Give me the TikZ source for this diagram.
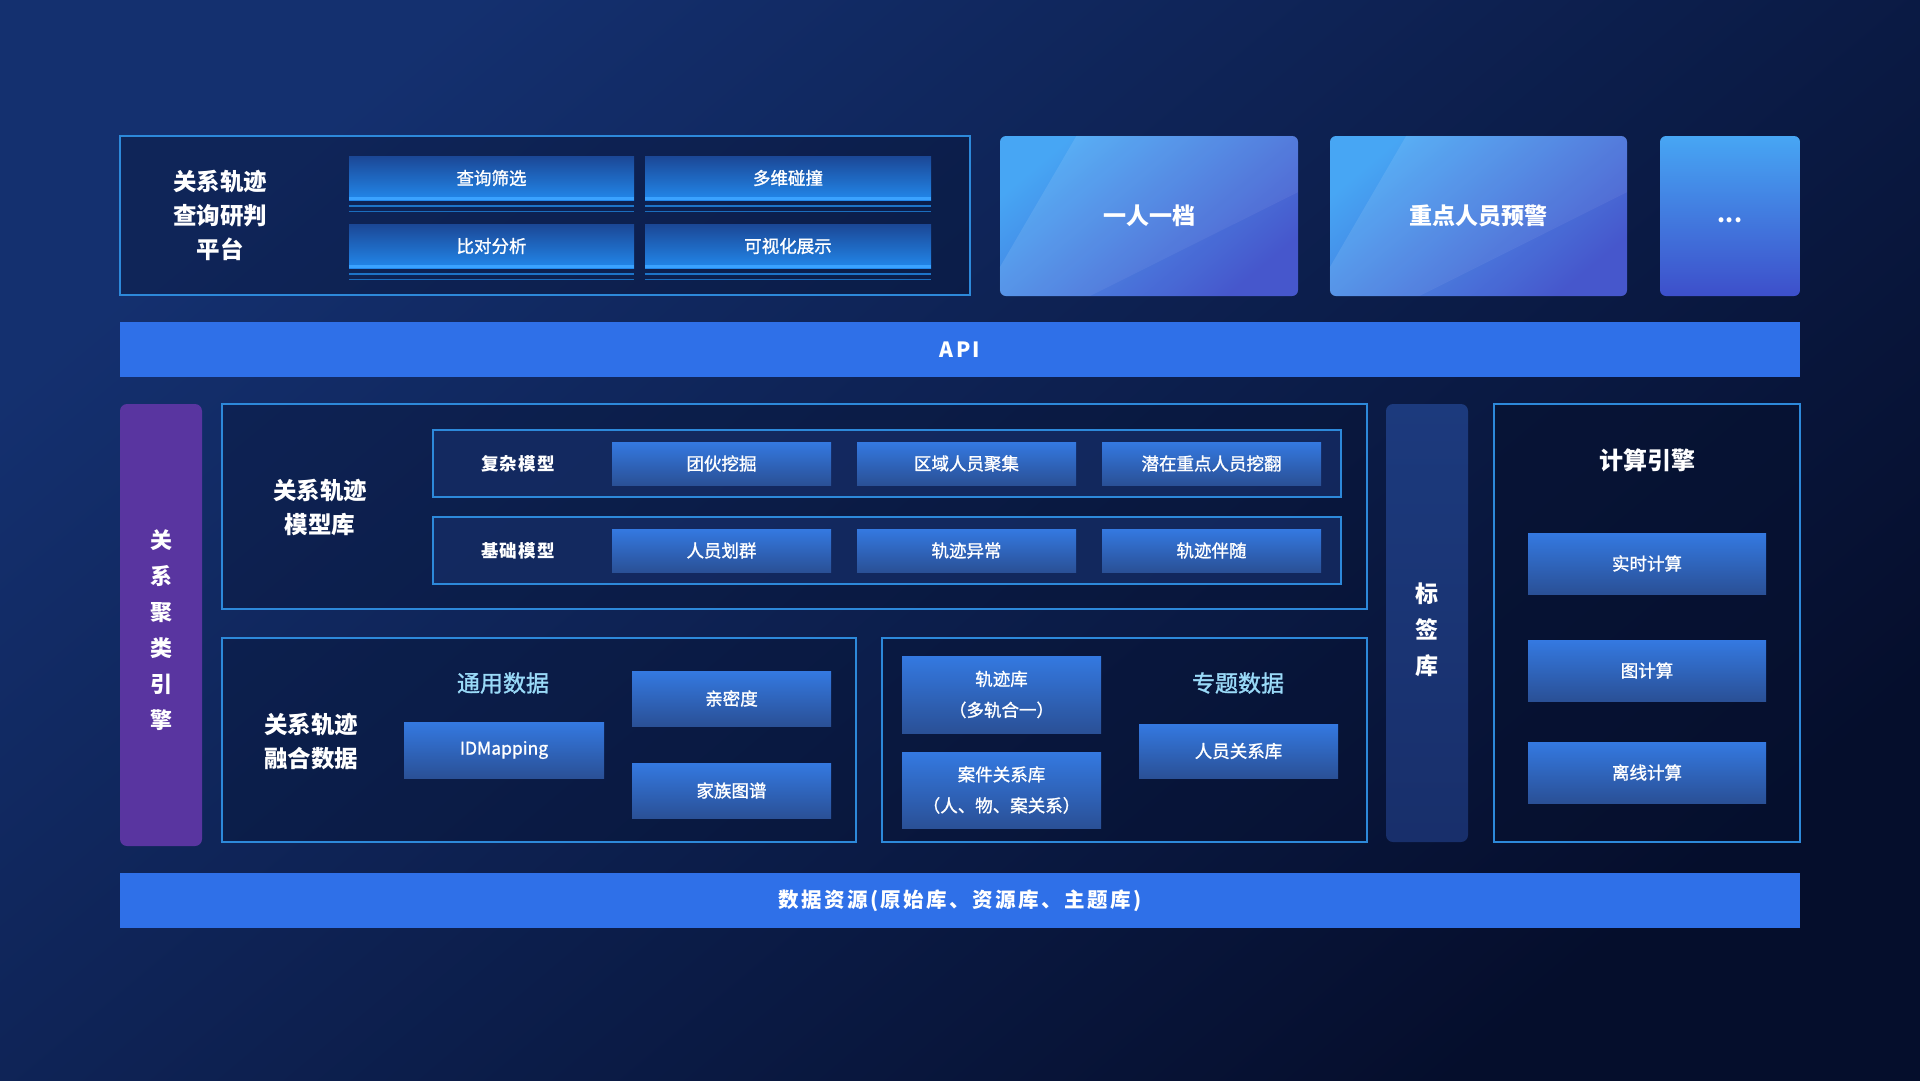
\documentclass[tikz,border=0pt]{standalone}
\usepackage{fontspec}
\setmainfont{Noto Sans CJK SC}
\newfontfamily\spfont[LetterSpace=12]{Noto Sans CJK SC}
\newfontfamily\spfontb[LetterSpace=6]{Noto Sans CJK SC}
\newfontfamily\medfont[FakeBold=1.3]{Noto Sans CJK SC}
\usetikzlibrary{calc}
\definecolor{bgA}{HTML}{14306F}
\definecolor{bgB}{HTML}{050E2C}
\definecolor{lineblue}{HTML}{2D89DA}
\definecolor{btnT}{HTML}{3479E1}
\definecolor{btnB}{HTML}{2A5096}
\definecolor{pT}{HTML}{1B4795}
\definecolor{pB}{HTML}{2288EC}
\definecolor{pL}{HTML}{3AA2FF}
\definecolor{apiblue}{HTML}{2F70E8}
\definecolor{cardA}{HTML}{47A6F4}
\definecolor{cardB}{HTML}{3D4FCA}
\definecolor{purp}{HTML}{5935A0}
\definecolor{tagT}{HTML}{1C3A7D}
\definecolor{tagB}{HTML}{182F6B}
\definecolor{rowfill}{HTML}{152C65}
\definecolor{boxfill}{HTML}{06112F}
\definecolor{cyantext}{HTML}{9ADAF8}
\newcommand\gloss[1]{%
  \begin{scope}
  \clip[rounded corners=6pt] (#1.north west) rectangle (#1.south east);
  \fill[white,opacity=.10] ($(#1.north west)!.257!(#1.north east)$) -- (#1.north east)
     -- ($(#1.north east)!.35!(#1.south east)$) -- ($(#1.south west)!.30!(#1.south east)$)
     -- (#1.south west) -- ($(#1.north west)!.82!(#1.south west)$) -- cycle;
  \fill[white,opacity=.05] ($(#1.south west)!.30!(#1.south east)$)
     -- ($(#1.north east)!.35!(#1.south east)$) -- (#1.south east) -- cycle;
  \end{scope}}
\begin{document}
\begin{tikzpicture}[x=1pt,y=-1pt,
  frame/.style={draw=lineblue, line width=1.1pt, fill=boxfill, fill opacity=.35, inner sep=0, text opacity=1},
  rowbox/.style={draw=lineblue, line width=1.1pt, fill=rowfill, fill opacity=.8, inner sep=0},
  btn/.style={top color=btnT, bottom color=btnB, draw=none, inner sep=0, text=white, align=center,
     font=\medfont\fontsize{17.5}{26}\selectfont},
  pbtn/.style={top color=pT, bottom color=pB, draw=none, inner sep=0, text=white,
     minimum width=285pt, minimum height=44pt, font=\medfont\fontsize{17.5}{20}\selectfont},
  card/.style={rounded corners=6pt, top color=cardA, bottom color=cardB, shading angle=40, draw=none,
     text=white, inner sep=0, font=\bfseries\fontsize{23}{26}\selectfont},
  bar/.style={fill=apiblue, draw=none, inner sep=0, text=white, minimum width=1680pt, minimum height=55pt},
  title/.style={text=white, align=center, font=\bfseries\fontsize{23.5}{34}\selectfont},
  sublabel/.style={text=white, font=\spfontb\bfseries\fontsize{17.5}{20}\selectfont},
  cyanlabel/.style={text=cyantext, font=\medfont\fontsize{23}{26}\selectfont},
  vtext/.style={text=white, align=center, font=\bfseries\fontsize{22}{36}\selectfont}]
\useasboundingbox (0,0) rectangle (1920,1080);
\shade[top color=bgA, bottom color=bgB, shading angle=40] (0,0) rectangle (1920,1080);

% ---------- top platform ----------
\node[frame, minimum width=850pt, minimum height=159pt] (plat) at (545,215.5) {};
\node[title] (plattitle) at (220,215) {关系轨迹\\查询研判\\平台};
\node[pbtn] (q1) at (491.5,178) {查询筛选};
\node[pbtn, minimum width=286pt] (q2) at (788,178) {多维碰撞};
\node[pbtn] (q3) at (491.5,246) {比对分析};
\node[pbtn, minimum width=286pt] (q4) at (788,246) {可视化展示};
\foreach \n in {q1,q2,q3,q4}{
  \fill[pL] ([yshift=3pt]\n.south west) rectangle (\n.south east);
  \draw[pB!85!black, line width=2pt] ([yshift=-5.5pt]\n.south west) -- ([yshift=-5.5pt]\n.south east);
  \draw[pB!80!black, line width=1.2pt] ([yshift=-11pt]\n.south west) -- ([yshift=-11pt]\n.south east);
}

% ---------- cards ----------
\node[card, minimum width=298pt, minimum height=160pt] (c1) at (1149,216) {};
\gloss{c1}
\node[text=white, font=\bfseries\fontsize{23}{26}\selectfont] (c1t) at (c1) {一人一档};
\node[card, minimum width=297pt, minimum height=160pt] (c2) at (1478.5,216) {};
\gloss{c2}
\node[text=white, font=\bfseries\fontsize{23}{26}\selectfont] (c2t) at (c2) {重点人员预警};
\node[card, shading angle=0, minimum width=140pt, minimum height=160pt] (c3) at (1730,216) {};
\node[text=white, font=\bfseries\fontsize{23}{26}\selectfont] (c3t) at (1730,220) {...};

% ---------- API ----------
\node[bar, font=\spfont\bfseries\fontsize{21}{24}\selectfont] (api) at (960,349.5) {API};

% ---------- purple bar ----------
\node[fill=purp, rounded corners=7pt, minimum width=82pt, minimum height=442pt, inner sep=0] (clu) at (161,625) {};
\node[vtext] (clut) at (161,630) {关\\系\\聚\\类\\引\\擎};

% ---------- model library ----------
\node[frame, minimum width=1145pt, minimum height=205pt] (model) at (794.5,506.5) {};
\node[title] (modelt) at (320,507) {关系轨迹\\模型库};
\node[rowbox, minimum width=908pt, minimum height=67pt] (row1) at (887,463.5) {};
\node[rowbox, minimum width=908pt, minimum height=67pt] (row2) at (887,550.5) {};
\node[sublabel] (r1l) at (518,464) {复杂模型};
\node[sublabel] (r2l) at (518,551) {基础模型};
\foreach \x/\t/\nm in {721.5/团伙挖掘/m1, 966.5/区域人员聚集/m2, 1211.5/潜在重点人员挖翻/m3}{
  \node[btn, minimum width=219pt, minimum height=43pt] (\nm) at (\x,463.5) {\t};}
\foreach \x/\t/\nm in {721.5/人员划群/m4, 966.5/轨迹异常/m5, 1211.5/轨迹伴随/m6}{
  \node[btn, minimum width=219pt, minimum height=43pt] (\nm) at (\x,550.5) {\t};}

% ---------- fusion data ----------
\node[frame, minimum width=634pt, minimum height=204pt] (fuse) at (539,740) {};
\node[title] (fuset) at (311,741) {关系轨迹\\融合数据};
\node[cyanlabel] (gen) at (503,683) {通用数据};
\node[btn, minimum width=200pt, minimum height=56pt] (idm) at (504,750) {IDMapping};
\node[btn, minimum width=199pt, minimum height=55pt] (qmd) at (731.5,698.5) {亲密度};
\node[btn, minimum width=199pt, minimum height=55pt] (jztp) at (731.5,790.5) {家族图谱};

% ---------- special data ----------
\node[frame, minimum width=485pt, minimum height=204pt] (spec) at (1124.5,740) {};
\node[btn, minimum width=199pt, minimum height=77pt, font=\medfont\fontsize{17.5}{31}\selectfont] (gjk) at (1001.5,694.5) {轨迹库\\（多轨合一）};
\node[btn, minimum width=199pt, minimum height=76pt, font=\medfont\fontsize{17.5}{31}\selectfont] (ajk) at (1001.5,790) {案件关系库\\（人、物、案关系）};
\node[cyanlabel] (ztsj) at (1238,683) {专题数据};
\node[btn, minimum width=199pt, minimum height=54pt] (rygx) at (1238.5,751) {人员关系库};

% ---------- tag library ----------
\node[top color=tagT, bottom color=tagB, rounded corners=7pt, minimum width=82pt, minimum height=438pt, inner sep=0] (tag) at (1427,623) {};
\node[vtext, font=\bfseries\fontsize{23}{36}\selectfont] (tagt) at (1427,629.5) {标\\签\\库};

% ---------- compute engine ----------
\node[frame, fill opacity=.6, minimum width=306pt, minimum height=438pt] (comp) at (1647,623) {};
\node[text=white, font=\bfseries\fontsize{24}{28}\selectfont] (compt) at (1647,460) {计算引擎};
\node[btn, minimum width=238pt, minimum height=61pt] (ss) at (1647,563.5) {实时计算};
\node[btn, minimum width=238pt, minimum height=61pt] (tj) at (1647,670.5) {图计算};
\node[btn, minimum width=238pt, minimum height=61pt] (lx) at (1647,772.5) {离线计算};

% ---------- bottom bar ----------
\node[bar, font=\spfont\bfseries\fontsize{20.5}{24}\selectfont] (data) at (960,900.5) {数据资源(原始库、资源库、主题库)};
\end{tikzpicture}
\end{document}
